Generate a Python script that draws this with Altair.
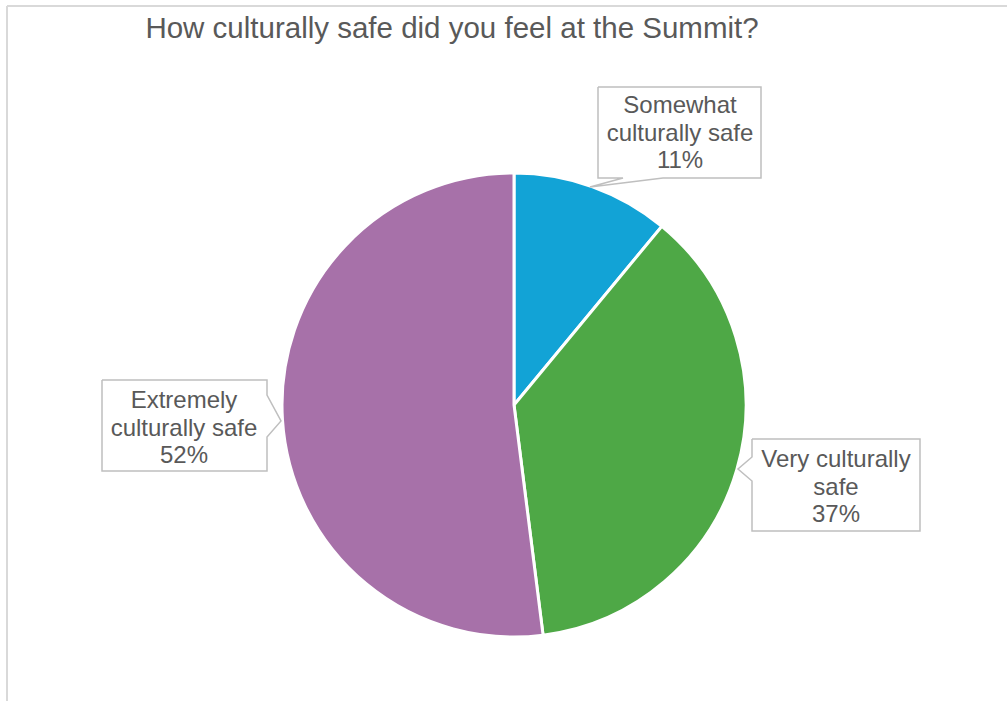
import altair as alt
import pandas as pd

# ---- data ----
categories = ["Somewhat culturally safe", "Very culturally safe", "Extremely culturally safe"]
values = [11, 37, 52]
colors = ["#12A3D6", "#4EA846", "#A771A9"]
label_lines = [
    ["Somewhat", "culturally safe"],
    ["Very culturally", "safe"],
    ["Extremely", "culturally safe"],
]
title_text = "How culturally safe did you feel at the Summit?"

# ---- layout (pixels) ----
W, H = 1007, 701
CX, CY, R = 514, 405, 232
label_centers = [(680, 106), (836, 460), (184, 401)]  # x, y of first line centre
LINE_H = 27.5
callouts = [
    [(598, 87), (761, 87), (761, 178), (663, 178), (590, 187), (623, 178), (598, 178), (598, 87)],
    [(752, 439), (920, 439), (920, 531), (752, 531), (752, 481), (738, 469), (752, 457), (752, 439)],
    [(102, 380), (267, 380), (267, 395), (281, 421), (267, 437), (267, 471), (102, 471), (102, 380)],
]

pie_df = pd.DataFrame({"cat": categories, "val": values, "ord": list(range(len(values)))})

txt_rows = []
for i, (lines, (lx, ly)) in enumerate(zip(label_lines, label_centers)):
    all_lines = lines + [f"{values[i]}%"]
    for j, t in enumerate(all_lines):
        txt_rows.append({"t": t, "x": lx, "y": ly + j * LINE_H})
txt_df = pd.DataFrame(txt_rows)

poly_rows = []
for k, pts in enumerate(callouts):
    for j, (px, py) in enumerate(pts):
        poly_rows.append({"g": k, "o": j, "x": px, "y": py})
poly_df = pd.DataFrame(poly_rows)

xs = alt.Scale(domain=[0, W], range=[0, W])
ys = alt.Scale(domain=[0, H], range=[0, H])

pie = alt.Chart(pie_df).mark_arc(
    radius=R, x=CX, y=CY, stroke="white", strokeWidth=3
).encode(
    theta=alt.Theta("val:Q", stack=True),
    order=alt.Order("ord:Q"),
    color=alt.Color("cat:N", scale=alt.Scale(domain=categories, range=colors), legend=None),
)

boxes = alt.Chart(poly_df).mark_line(
    color="#BFBFBF", strokeWidth=1.5, interpolate="linear"
).encode(
    x=alt.X("x:Q", scale=xs, axis=None),
    y=alt.Y("y:Q", scale=ys, axis=None),
    detail="g:N",
    order="o:Q",
)

labels = alt.Chart(txt_df).mark_text(
    font="Liberation Sans", fontSize=24, color="#595959", baseline="middle", align="center"
).encode(
    x=alt.X("x:Q", scale=xs, axis=None),
    y=alt.Y("y:Q", scale=ys, axis=None),
    text="t:N",
)

title = alt.Chart(pd.DataFrame({"t": [title_text]})).mark_text(
    font="Liberation Sans", fontSize=29.5, color="#595959", baseline="alphabetic", align="center"
).encode(
    x=alt.value(452), y=alt.value(38), text="t:N"
)

border_top = alt.Chart(pd.DataFrame({"a": [0]})).mark_rule(color="#D9D9D9", strokeWidth=2).encode(
    x=alt.value(7), x2=alt.value(W), y=alt.value(6)
)
border_left = alt.Chart(pd.DataFrame({"a": [0]})).mark_rule(color="#D9D9D9", strokeWidth=2).encode(
    x=alt.value(7), y=alt.value(6), y2=alt.value(H)
)

chart = alt.layer(border_top, border_left, pie, boxes, labels, title).properties(
    width=W, height=H, padding=0, autosize=alt.AutoSizeParams(type="none"),
    background="white",
).configure_view(stroke=None)

chart.save("out.html", embed_options={"renderer": "svg", "actions": False})
